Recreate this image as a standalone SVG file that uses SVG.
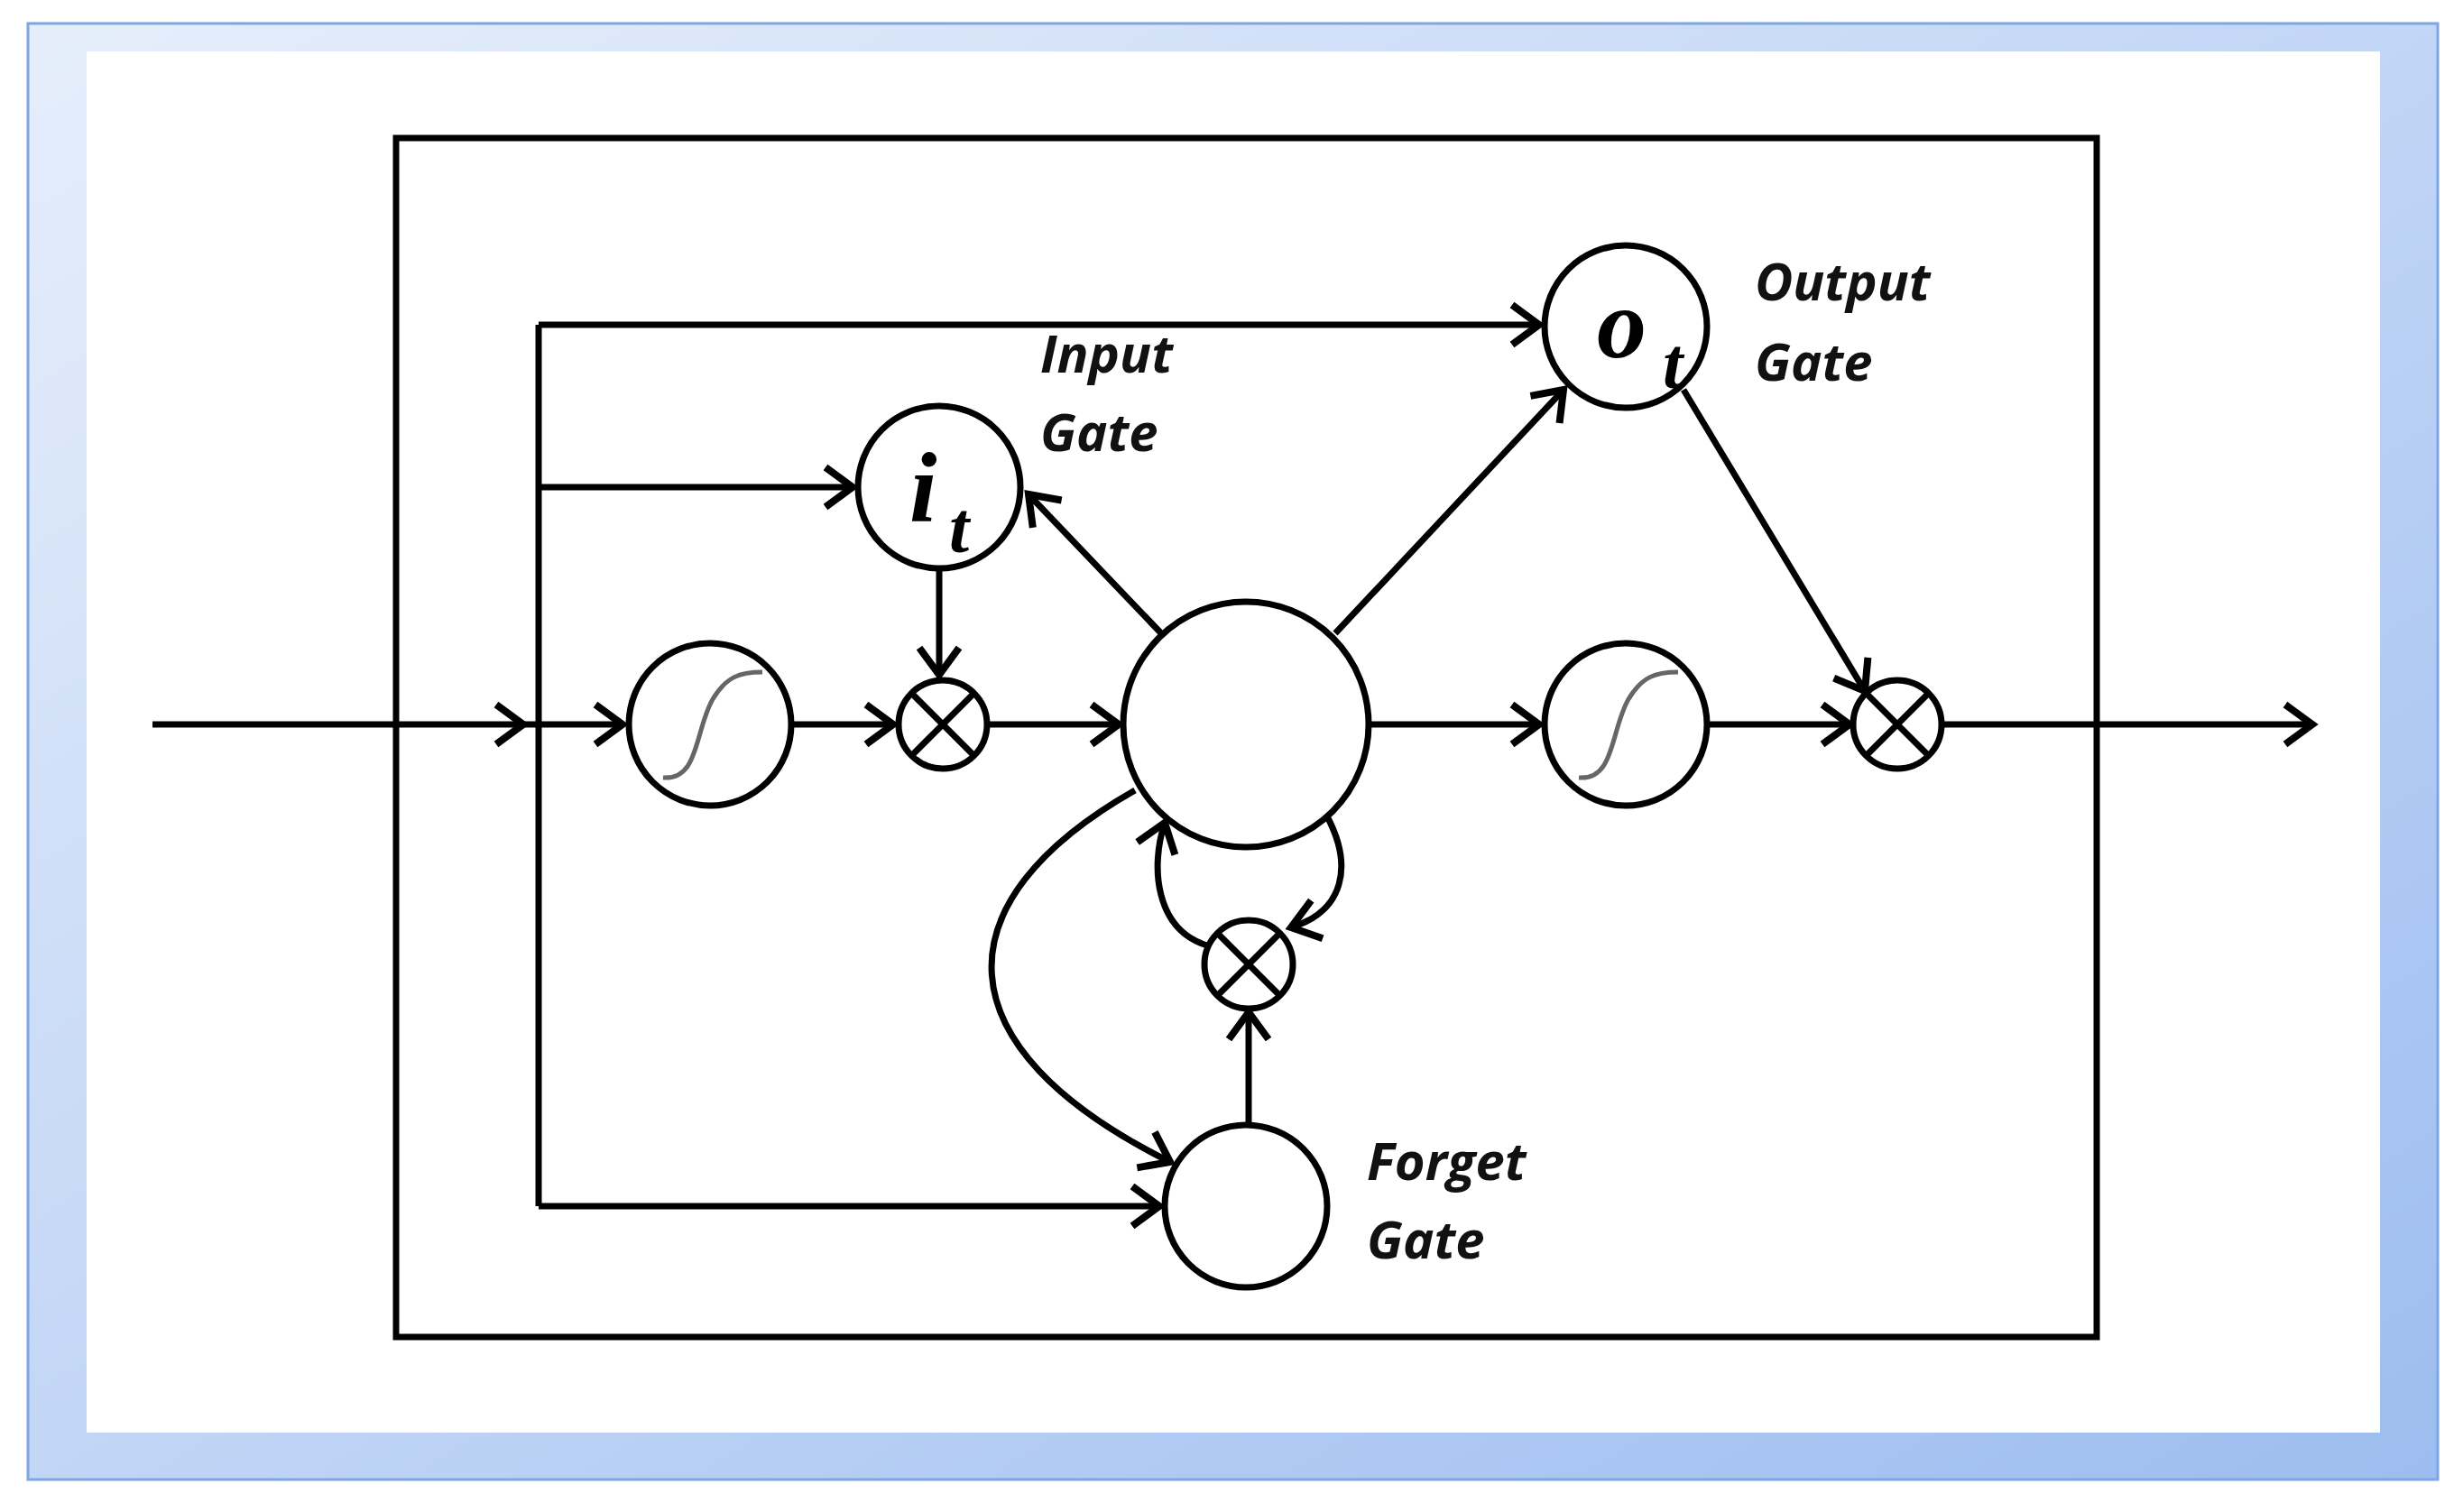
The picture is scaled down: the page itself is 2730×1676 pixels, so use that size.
<svg xmlns="http://www.w3.org/2000/svg" width="2730" height="1676" viewBox="0 0 2730 1676">
<defs>
<linearGradient id="bg" x1="0" y1="0" x2="1" y2="1"><stop offset="0" stop-color="#e6eefb"/><stop offset="1" stop-color="#9dbdf0"/></linearGradient>
<marker id="ah" markerWidth="60" markerHeight="60" refX="0" refY="0" markerUnits="userSpaceOnUse" orient="auto" style="overflow:visible">
<polyline points="-30,-22 0,0 -30,22" fill="none" stroke="#000" stroke-width="8" stroke-linejoin="miter"/>
</marker>
<style>
.l{fill:none;stroke:#000;stroke-width:7}
.a{fill:none;stroke:#000;stroke-width:7;marker-end:url(#ah)}
.c{fill:#fff;stroke:#000;stroke-width:7}
.lab{font-family:"Open Sans","DejaVu Sans",sans-serif;font-weight:bold;font-style:italic;font-size:58px;fill:#111}
.sym{font-family:"Liberation Serif",serif;font-weight:bold;font-style:italic;fill:#000}
.s{fill:none;stroke:#666;stroke-width:5}
</style>
</defs>
<rect x="31" y="26" width="2671" height="1614" fill="url(#bg)" stroke="#7ea6e0" stroke-width="3"/>
<rect x="96" y="57" width="2542" height="1531" fill="#fff"/>
<rect x="439" y="153" width="1885" height="1329" fill="none" stroke="#000" stroke-width="7"/>
<g id="connectors">
<line class="a" x1="169" y1="803" x2="580" y2="803"/>
<line class="a" x1="580" y1="803" x2="690" y2="803"/>
<line class="l" x1="597" y1="360" x2="597" y2="1337"/>
<line class="a" x1="597" y1="360" x2="1706" y2="360"/>
<line class="a" x1="597" y1="540" x2="945" y2="540"/>
<line class="a" x1="597" y1="1337" x2="1285" y2="1337"/>
<line class="a" x1="877" y1="803" x2="990" y2="803"/>
<line class="a" x1="1094" y1="803" x2="1240" y2="803"/>
<line class="a" x1="1041" y1="630" x2="1041" y2="748"/>
<line class="a" x1="1288" y1="703" x2="1140" y2="548"/>
<line class="a" x1="1480" y1="702" x2="1733" y2="432"/>
<line class="a" x1="1866" y1="432" x2="2067" y2="766"/>
<line class="a" x1="1517" y1="803" x2="1706" y2="803"/>
<line class="a" x1="1892" y1="803" x2="2050" y2="803"/>
<line class="a" x1="2152" y1="803" x2="2563" y2="803"/>
<path class="a" d="M1258,876 C1040,1000 1040,1160 1297,1288"/>
<path class="a" d="M1471,905 C1500,960 1490,1010 1431,1028"/>
<path class="a" d="M1338,1048 C1280,1030 1275,960 1291,912"/>
<line class="a" x1="1384" y1="1247" x2="1384" y2="1122"/>
</g>
<g id="input-gate"><circle class="c" cx="1041" cy="540" r="90"/><text class="sym" x="1008" y="578" font-size="110">i</text><text class="sym" x="1052" y="612" font-size="80" font-weight="normal">t</text>
<text class="lab" x="1153" y="413">Input</text><text class="lab" x="1153" y="500">Gate</text></g>
<g id="output-gate"><circle class="c" cx="1802" cy="362" r="90"/><text class="sym" x="1770" y="396" font-size="110">o</text><text class="sym" x="1843" y="430" font-size="80" font-weight="normal">t</text>
<text class="lab" x="1945" y="333">Output</text><text class="lab" x="1945" y="422">Gate</text></g>
<g id="forget-gate"><circle class="c" cx="1381" cy="1337" r="90"/>
<text class="lab" x="1515" y="1308">Forget</text><text class="lab" x="1515" y="1395">Gate</text></g>
<g id="cell"><circle class="c" cx="1381" cy="803" r="136"/></g>
<g id="sig1"><circle class="c" cx="787" cy="803" r="90"/><path class="s" d="M735,862 C775,865 770,810 790,775 C805,750 820,745 845,745"/></g>
<g id="sig2"><circle class="c" cx="1802" cy="803" r="90"/><path class="s" d="M1750,862 C1790,865 1785,810 1805,775 C1820,750 1835,745 1860,745"/></g>
<g id="mul1"><circle class="c" cx="1045" cy="803" r="49"/><path class="l" d="M1010,768 L1080,838 M1080,768 L1010,838"/></g>
<g id="mul2"><circle class="c" cx="2103" cy="803" r="49"/><path class="l" d="M2068,768 L2138,838 M2138,768 L2068,838"/></g>
<g id="mul3"><circle class="c" cx="1384" cy="1069" r="49"/><path class="l" d="M1349,1034 L1419,1104 M1419,1034 L1349,1104"/></g>
</svg>
